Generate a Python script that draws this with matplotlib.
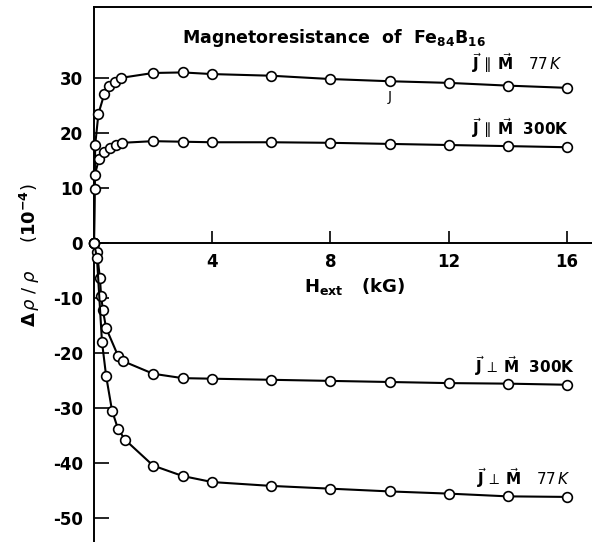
import matplotlib
matplotlib.use("Agg")
import matplotlib.pyplot as plt

plt.rcParams['font.family'] = ['DejaVu Sans']
plt.rcParams['mathtext.fontset'] = 'dejavusans'

# field values (kG) and delta rho / rho (1e-4)
h_par77 = [0, 0.04, 0.15, 0.35, 0.5, 0.7, 0.9, 2, 3, 4, 6, 8, 10, 12, 14, 16]
r_par77 = [0, 17.8, 23.5, 27.1, 28.5, 29.3, 30.0, 30.9, 31.0, 30.7, 30.4, 29.8, 29.4, 29.1, 28.6, 28.2]

h_par300 = [0, 0.02, 0.03, 0.17, 0.34, 0.54, 0.74, 0.95, 2, 3, 4, 6, 8, 10, 12, 14, 16]
r_par300 = [0, 9.8, 12.4, 15.3, 16.5, 17.3, 17.8, 18.2, 18.5, 18.4, 18.3, 18.3, 18.2, 18.0, 17.8, 17.6, 17.4]

h_perp300 = [0, 0.1, 0.2, 0.24, 0.3, 0.41, 0.81, 0.98, 2, 3, 4, 6, 8, 10, 12, 14, 16]
r_perp300 = [0, -1.7, -6.4, -9.6, -12.2, -15.5, -20.5, -21.5, -23.8, -24.6, -24.7, -24.9, -25.1, -25.3, -25.5, -25.6, -25.8]

h_perp77 = [0, 0.1, 0.27, 0.41, 0.61, 0.81, 1.05, 2, 3, 4, 6, 8, 10, 12, 14, 16]
r_perp77 = [0, -2.7, -18.0, -24.2, -30.5, -33.8, -35.8, -40.5, -42.4, -43.5, -44.2, -44.7, -45.2, -45.6, -46.1, -46.2]

xticks = [4, 8, 12, 16]
yticks = [-50, -40, -30, -20, -10, 0, 10, 20, 30]

fig = plt.figure(figsize=(5.92, 5.42), dpi=100)
ax = fig.add_axes([94 / 592, 0, 498 / 592, 535 / 542])

for h, r in [(h_par77, r_par77), (h_par300, r_par300),
             (h_perp300, r_perp300), (h_perp77, r_perp77)]:
    ax.plot(h, r, color='black', lw=1.5, marker='o', ms=7,
            mfc='white', mec='black', mew=1.2, clip_on=False, zorder=3)

ax.set_xlim(0, 16.85)
ax.set_ylim(-54.4, 42.9)

# spines: left + top frame, x axis through zero
ax.spines['right'].set_visible(False)
ax.spines['bottom'].set_position(('data', 0))
for s in ['left', 'top', 'bottom']:
    ax.spines[s].set_linewidth(1.4)

ax.set_xticks(xticks)
ax.set_xticklabels([str(t) for t in xticks])
ax.set_yticks(yticks)
ax.set_yticklabels([str(t) for t in yticks])
ax.tick_params(axis='x', direction='in', length=9, width=1.2,
               labelsize=12, pad=7, top=False)
ax.tick_params(axis='y', direction='in', length=11, width=1.2,
               labelsize=12, pad=8)
for lab in ax.get_xticklabels() + ax.get_yticklabels():
    lab.set_fontweight('bold')

# title inside the frame
ax.text(0.482, 0.942, r'Magnetoresistance  of  Fe$_{\mathbf{84}}$B$_{\mathbf{16}}$',
        transform=ax.transAxes, ha='center', va='center',
        fontsize=12.5, fontweight='bold')

# curve labels
lab_kw = dict(fontsize=11, ha='left', va='bottom', fontweight='bold')
ax.text(12.8, 30.6, r'$\vec{\mathbf{J}}\,\parallel\,\vec{\mathbf{M}}$   $\mathit{77\,K}$', **lab_kw)
ax.text(12.8, 18.8, r'$\vec{\mathbf{J}}\,\parallel\,\vec{\mathbf{M}}$  300K', **lab_kw)
ax.text(12.9, -24.6, r'$\vec{\mathbf{J}}\,\perp\,\vec{\mathbf{M}}$  300K', **lab_kw)
ax.text(12.95, -45.0, r'$\vec{\mathbf{J}}\,\perp\,\vec{\mathbf{M}}$   $\mathit{77\,K}$', **lab_kw)
ax.text(10.0, 26.5, 'J', fontsize=10, ha='center', va='center')

# axis labels
ax.text(8.8, -8.0, r'H$_{\mathbf{ext}}$   (kG)', fontsize=13,
        fontweight='bold', ha='center', va='center')
fig.text(30 / 592, 1 - 255 / 542, r'$\mathbf{\Delta}\,\rho\;/\;\rho$     $(\mathbf{10}^{\mathbf{-4}})$',
         rotation=90, fontsize=13, ha='center', va='center')

fig.savefig('out.png', dpi=100)
